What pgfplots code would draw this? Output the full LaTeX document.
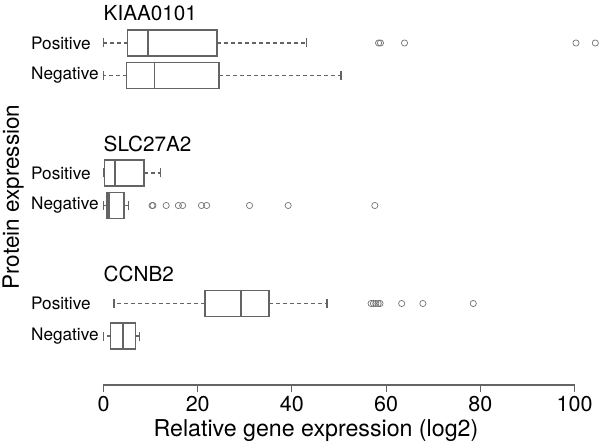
\documentclass[border=0pt]{standalone}
\usepackage{fontspec}
\setmainfont{TeX Gyre Heros}
\usepackage{pgfplots}
\pgfplotsset{compat=1.18}
\usepgfplotslibrary{statistics}
\definecolor{boxcol}{RGB}{100,100,100}
\definecolor{outcol}{RGB}{115,115,115}
\definecolor{axcol}{RGB}{100,100,100}

% R-like whiskers: dashed stem, solid cap
\pgfplotsset{
  boxplot/draw/whisker/.code 2 args={%
    \draw[boxcol, line width=1.3bp, dash pattern=on 4bp off 3bp] (boxplot cs:#1) -- (boxplot cs:#2);
    \draw[boxcol, line width=1.5bp, solid] (boxplot whisker cs:#2,0) -- (boxplot whisker cs:#2,1);
  },
  boxplot/every box/.style={draw=boxcol, line width=1.6bp, solid, fill=none},
  boxplot/every median/.style={draw=boxcol, line width=1.6bp, solid},
  rbox/.style={boxcol, line width=1.6bp, solid, mark=o, mark size=3.1bp,
    mark options={outcol, line width=0.7bp, solid}},
}
\newcommand{\rowlab}[2]{\node[anchor=west, inner sep=0pt, font=\fontsize{17.2bp}{18bp}\selectfont] at (axis cs:-15.4,#1) {#2};}
\newcommand{\gene}[2]{\node[anchor=west, inner sep=0pt, font=\fontsize{20.7bp}{22bp}\selectfont] at (axis cs:0,#1) {#2};}

\begin{document}
\begin{tikzpicture}
\begin{axis}[
  at={(0,0)}, anchor=south west,
  width=600bp, height=385bp, scale only axis,
  xmin=-21.97, xmax=105.4, ymin=-385, ymax=0,
  clip=false,
  axis y line=none, axis x line*=bottom,
  x axis line style={draw=none},
  xtick={0,20,...,100},
  tick align=outside, major tick length=7bp,
  tick style={axcol, line width=1.1bp},
  xticklabel style={font=\fontsize{21.5bp}{22bp}\selectfont, inner sep=0pt, yshift=-4bp},
  /pgf/number format/assume math mode=true,
  boxplot/draw direction=x,
  boxplot/box extend=26,
  boxplot/whisker extend=9,
]
% KIAA0101
\addplot[rbox, boxplot prepared={draw position=-43, lower whisker=0, lower quartile=5.1,
  median=9.5, upper quartile=24.1, upper whisker=43.1}]
  coordinates {(0,58.4) (0,58.8) (0,63.9) (0,100.3) (0,104.4)};
\addplot[rbox, boxplot prepared={draw position=-75.5, lower whisker=0, lower quartile=4.9,
  median=10.8, upper quartile=24.5, upper whisker=50.4}]
  coordinates {};
% SLC27A2
\addplot[rbox, boxplot prepared={draw position=-173, lower whisker=0, lower quartile=0.2,
  median=2.4, upper quartile=8.6, upper whisker=12.1}]
  coordinates {};
\addplot[rbox, boxplot prepared={draw position=-205.5, lower whisker=0, lower quartile=0.8,
  median=1.2, upper quartile=4.4, upper whisker=5.3}]
  coordinates {(0,10.3) (0,10.5) (0,13.3) (0,15.9) (0,16.8) (0,20.8) (0,21.9)
               (0,31.0) (0,39.2) (0,57.6)};
% CCNB2
\addplot[rbox, boxplot prepared={draw position=-303.5, lower whisker=2.2, lower quartile=21.5,
  median=29.2, upper quartile=35.1, upper whisker=47.4}]
  coordinates {(0,56.8) (0,57.3) (0,57.8) (0,58.3) (0,58.7) (0,63.3) (0,67.8) (0,78.5)};
\addplot[rbox, boxplot prepared={draw position=-336, lower whisker=0, lower quartile=1.5,
  median=4.2, upper quartile=6.8, upper whisker=7.6}]
  coordinates {};

\draw[axcol, line width=1.1bp] (axis cs:0,-385) -- (axis cs:100,-385);

\gene{-13.5}{KIAA0101}
\gene{-143.5}{SLC27A2}
\gene{-274}{CCNB2}
\rowlab{-43}{Positive}
\rowlab{-75.5}{Negative}
\rowlab{-173}{Positive}
\rowlab{-205.5}{Negative}
\rowlab{-303.5}{Positive}
\rowlab{-336}{Negative}

\node[font=\fontsize{23.2bp}{24bp}\selectfont] at (axis cs:45.1,-431) {Relative gene expression (log2)};
\node[rotate=90, font=\fontsize{22.5bp}{24bp}\selectfont] at (axis cs:-19.2,-197) {Protein expression};
\end{axis}
\pgfresetboundingbox
\path[use as bounding box] (0,-60bp) rectangle (600bp,385bp);
\end{tikzpicture}
\end{document}
